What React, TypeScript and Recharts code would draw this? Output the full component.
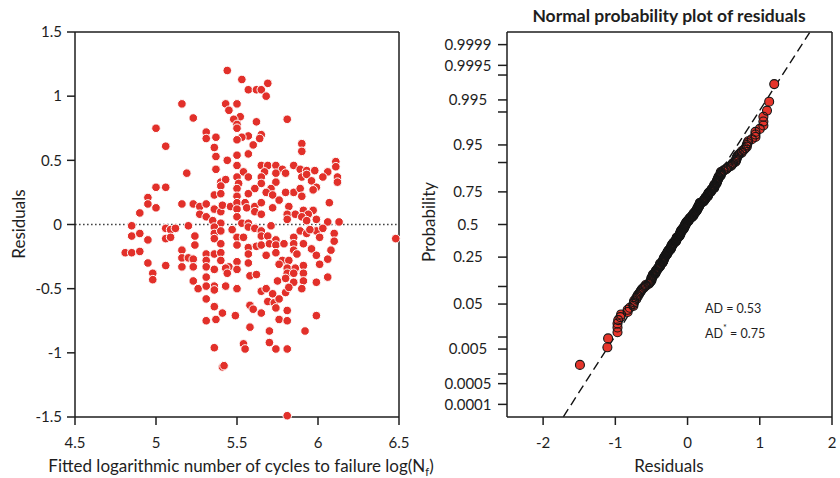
import { ScatterChart, Scatter, XAxis, YAxis, ReferenceLine } from 'recharts';

const FONT = 'Lato, "Open Sans", sans-serif';
const INK = '#1e1e1e';

// left panel: fitted log(Nf) vs residual
const fittedTicks = [4.5, 5, 5.5, 6, 6.5];
const residualTicks = [-1.5, -1, -0.5, 0, 0.5, 1, 1.5];

const fittedVsResidual: [number, number][] = [
  [5.44, 1.2], [5.53, 1.13], [5.69, 1.1], [5.57, 1.05], [5.62, 1.05], [5.65, 1.05], [5.68, 1.0],
  [5.16, 0.94], [5.43, 0.94], [5.45, 0.89], [5.5, 0.94], [5.23, 0.83], [5.52, 0.84], [5.48, 0.82], [5.62, 0.8], [5.81, 0.82],
  [5.5, 0.78], [5.5, 0.75], [5.0, 0.75], [5.31, 0.72], [5.31, 0.67], [5.37, 0.68], [5.57, 0.69], [5.53, 0.68], [5.65, 0.7], [5.64, 0.67],
  [5.5, 0.66], [5.6, 0.62], [5.9, 0.63], [5.06, 0.61], [5.36, 0.6], [5.9, 0.57], [5.37, 0.53], [5.5, 0.54], [5.57, 0.55], [5.44, 0.5],
  [5.5, 0.46], [5.37, 0.43], [5.65, 0.46], [5.69, 0.46], [5.74, 0.46], [5.78, 0.43], [5.85, 0.46], [5.89, 0.43], [5.93, 0.42], [5.98, 0.42],
  [6.11, 0.49], [6.11, 0.45], [6.06, 0.41], [5.54, 0.41], [5.67, 0.41], [5.8, 0.4], [5.19, 0.4], [5.5, 0.37], [5.57, 0.37], [5.65, 0.37],
  [5.74, 0.4], [6.12, 0.37], [6.12, 0.33], [5.9, 0.37], [5.93, 0.39], [5.96, 0.34], [6.03, 0.37], [5.4, 0.33], [5.43, 0.35], [5.51, 0.32],
  [5.65, 0.32], [5.74, 0.33], [5.0, 0.29], [5.06, 0.29], [5.4, 0.3], [5.5, 0.28], [5.61, 0.28], [5.71, 0.28], [5.85, 0.25], [5.8, 0.25],
  [5.89, 0.28], [5.99, 0.29], [5.97, 0.27], [5.36, 0.23], [5.4, 0.24], [5.5, 0.22], [5.57, 0.24], [5.68, 0.25], [5.72, 0.23], [5.9, 0.22],
  [4.95, 0.21], [5.76, 0.19], [4.9, 0.09], [4.95, 0.16], [5.0, 0.13], [5.16, 0.16], [5.23, 0.16], [5.27, 0.14], [5.31, 0.16], [5.27, 0.08],
  [5.31, 0.06], [5.36, 0.12], [5.4, 0.1], [5.41, 0.15], [5.46, 0.14], [5.5, 0.17], [5.5, 0.12], [5.5, 0.06], [5.55, 0.17], [5.56, 0.13],
  [5.61, 0.14], [5.61, 0.1], [5.65, 0.17], [5.65, 0.08], [5.72, 0.13], [5.82, 0.14], [5.81, 0.08], [5.81, 0.04], [5.86, 0.08], [5.91, 0.11],
  [5.97, 0.11], [6.07, 0.17], [5.94, 0.08], [5.99, 0.04], [5.9, 0.06], [5.93, 0.03], [5.35, 0.03], [5.4, 0.01], [5.53, 0.01], [5.57, 0.01],
  [6.13, 0.02], [6.06, 0.02], [4.85, -0.01], [5.2, -0.01],
  [4.85, -0.09], [4.9, -0.07], [4.95, -0.12], [5.06, -0.03], [5.06, -0.11], [5.09, -0.04], [5.09, -0.1], [5.12, -0.03], [5.24, -0.09],
  [5.36, -0.02], [5.36, -0.07], [5.4, -0.05], [5.47, -0.04], [5.5, -0.1], [5.54, -0.1], [5.57, -0.02], [5.61, -0.03], [5.65, -0.05],
  [5.65, -0.09], [5.69, -0.09], [5.71, -0.01], [5.74, -0.12], [5.85, -0.1], [5.89, -0.05], [5.93, -0.07], [5.99, -0.05], [5.95, -0.04],
  [6.03, -0.03], [6.01, -0.1], [6.1, -0.07], [6.48, -0.11],
  [5.24, -0.16], [5.36, -0.11], [5.4, -0.15], [5.5, -0.16], [5.57, -0.18], [5.62, -0.17], [5.65, -0.16], [5.7, -0.15], [5.74, -0.16],
  [5.79, -0.15], [5.85, -0.15], [5.91, -0.15], [5.96, -0.19], [6.1, -0.13],
  [4.81, -0.22], [4.85, -0.22], [4.9, -0.21], [5.16, -0.2], [5.16, -0.26], [5.2, -0.26], [5.23, -0.27], [5.31, -0.23], [5.31, -0.28],
  [5.36, -0.23], [5.4, -0.22], [5.4, -0.28], [5.5, -0.29], [5.57, -0.23], [5.57, -0.3], [5.68, -0.24], [5.74, -0.22], [5.78, -0.28],
  [5.82, -0.28], [5.85, -0.2], [5.87, -0.23], [5.99, -0.24], [6.01, -0.31], [6.06, -0.27], [6.08, -0.2],
  [4.95, -0.3], [5.06, -0.32], [5.16, -0.33], [5.23, -0.33], [5.31, -0.33], [5.36, -0.35], [5.45, -0.33], [5.43, -0.34], [5.5, -0.35],
  [5.76, -0.31], [5.81, -0.34], [5.86, -0.34], [5.91, -0.32],
  [4.98, -0.38], [4.98, -0.43], [5.23, -0.44], [5.31, -0.41], [5.36, -0.48], [5.44, -0.38], [5.58, -0.4], [5.62, -0.39], [5.81, -0.38],
  [5.85, -0.38], [5.8, -0.42], [5.85, -0.45], [5.91, -0.38], [5.91, -0.44], [5.99, -0.45], [6.06, -0.41], [5.75, -0.44],
  [5.26, -0.5], [5.31, -0.48], [5.36, -0.51], [5.43, -0.48], [5.5, -0.5], [5.65, -0.52], [5.68, -0.5], [5.72, -0.54], [5.8, -0.53],
  [5.82, -0.49], [5.9, -0.5],
  [5.31, -0.58], [5.69, -0.6], [5.73, -0.61], [5.76, -0.58], [5.36, -0.64], [5.41, -0.69], [5.58, -0.63], [5.6, -0.66], [5.65, -0.69],
  [5.74, -0.65], [5.81, -0.67], [5.31, -0.75], [5.37, -0.74], [5.49, -0.71], [5.76, -0.74], [5.81, -0.75], [5.99, -0.71],
  [5.58, -0.8], [5.7, -0.83], [5.92, -0.83], [5.54, -0.93], [5.55, -0.97], [5.7, -0.92], [5.74, -0.97], [5.36, -0.96], [5.81, -0.97],
  [5.41, -1.11], [5.42, -1.1], [5.81, -1.49],
];

// right panel: normal probability axis
const qqXTicks = [-2, -1, 0, 1, 2];
const probTicks = [0.0001, 0.0005, 0.001, 0.005, 0.01, 0.05, 0.1, 0.25, 0.5, 0.75, 0.9, 0.95, 0.99, 0.995, 0.999, 0.9995, 0.9999];
const probLabels = ['0.0001', '0.0005', '', '0.005', '', '0.05', '', '0.25', '0.5', '0.75', '', '0.95', '', '0.995', '', '0.9995', '0.9999'];
const fitLineEnds = [{ x: -1.72, p: 0.000035 }, { x: 1.69, p: 0.999964 }];
const adText = 'AD = 0.53';
const adStarValue = ' = 0.75';

// inverse standard normal cdf (Acklam) – used as the probability-paper scale
function invNorm(p: number) {
  const a = [-39.69683028665376, 220.9460984245205, -275.9285104469687, 138.357751867269, -30.66479806614716, 2.506628277459239];
  const b = [-54.47609879822406, 161.5858368580409, -155.6989798598866, 66.80131188771802, -13.28068155288572];
  const c = [-0.007784894002430293, -0.3223964580411365, -2.400758277161838, -2.549671010366383, 4.374664141464968, 2.938163982698783];
  const d = [0.007784695709041462, 0.3224671290700398, 2.445134137142996, 3.754408661907416];
  const tail = (q: number) =>
    (((((c[0] * q + c[1]) * q + c[2]) * q + c[3]) * q + c[4]) * q + c[5]) /
    ((((d[0] * q + d[1]) * q + d[2]) * q + d[3]) * q + 1);
  if (p < 0.02425) return tail(Math.sqrt(-2 * Math.log(p)));
  if (p > 1 - 0.02425) return -tail(Math.sqrt(-2 * Math.log(1 - p)));
  const q = p - 0.5;
  const r = q * q;
  return ((((((a[0] * r + a[1]) * r + a[2]) * r + a[3]) * r + a[4]) * r + a[5]) * q) /
    (((((b[0] * r + b[1]) * r + b[2]) * r + b[3]) * r + b[4]) * r + 1);
}

const leftData = fittedVsResidual.map(([x, y]) => ({ x, y }));

// probability plot built from the same residuals: sorted, Hazen plotting positions
const sortedRes = fittedVsResidual.map((d) => d[1]).sort((a, b) => a - b);
const qqData = sortedRes.map((r, i) => ({ x: r, z: invNorm((i + 0.5) / sortedRes.length) }));
const probTickZ = probTicks.map(invNorm);
const probLabel = (z: number) => {
  let best = 0;
  probTickZ.forEach((t, i) => { if (Math.abs(t - z) < Math.abs(probTickZ[best] - z)) best = i; });
  return probLabels[best];
};
const Z_MAX = 3.98;

const tickStyle = { fontSize: 15, fill: INK, fontFamily: FONT };
const lineStyle = { stroke: INK, strokeWidth: 1.5 };

const RedDot = (props: any) => (
  <circle cx={props.cx} cy={props.cy} r={4.3} fill="#e2302a" stroke="#fff" strokeWidth={1} />
);
// qq markers: fills first, outlines drawn as a second layer on top
const QQFill = (props: any) => <circle cx={props.cx} cy={props.cy} r={4.5} fill="#e5352b" />;
const QQRing = (props: any) => (
  <circle cx={props.cx} cy={props.cy} r={4.5} fill="none" stroke="#161616" strokeWidth={1.1} />
);
const ProbTick = ({ x, y, payload }: any) => (
  <text x={x - 30} y={y} dy="0.355em" textAnchor="middle" fontSize={15} fill={INK} fontFamily={FONT}>
    {probLabel(payload.value)}
  </text>
);

export default function App() {
  return (
    <div style={{ position: 'absolute', left: 0, top: 0, width: 840, height: 478, background: '#fff', fontFamily: FONT }}>
      <div style={{ position: 'absolute', left: 0, top: 0 }}>
        <ScatterChart width={420} height={478} margin={{ top: 22, right: 13, bottom: 0, left: 0 }}>
          <XAxis xAxisId="b" type="number" dataKey="x" domain={[4.5, 6.5]} ticks={fittedTicks} height={61}
            tickSize={8} tickMargin={12} axisLine={lineStyle} tickLine={lineStyle} tick={tickStyle} />
          <XAxis xAxisId="t" orientation="top" type="number" dataKey="x" domain={[4.5, 6.5]} ticks={fittedTicks} height={10}
            tickSize={8} axisLine={lineStyle} tickLine={lineStyle} tickFormatter={() => ''} />
          <YAxis yAxisId="l" type="number" dataKey="y" domain={[-1.5, 1.5]} ticks={residualTicks} width={75}
            tickSize={8} tickMargin={5} axisLine={lineStyle} tickLine={lineStyle} tick={tickStyle} />
          <YAxis yAxisId="r" orientation="right" type="number" dataKey="y" domain={[-1.5, 1.5]} ticks={residualTicks} width={8}
            tickSize={8} axisLine={lineStyle} tickLine={lineStyle} tickFormatter={() => ''} />
          <ReferenceLine xAxisId="b" yAxisId="l" y={0} stroke="#444" strokeWidth={1.6} strokeDasharray="1.6 2.4" />
          <Scatter xAxisId="b" yAxisId="l" data={leftData} shape={RedDot} isAnimationActive={false} />
          <Scatter xAxisId="t" yAxisId="r" data={[]} isAnimationActive={false} />
        </ScatterChart>
      </div>
      <div style={{ position: 'absolute', left: 420, top: 0 }}>
        <ScatterChart width={420} height={478} margin={{ top: 22, right: 0, bottom: 0, left: 0 }}>
          <XAxis xAxisId="b" type="number" dataKey="x" domain={[-2.5, 2]} ticks={qqXTicks} height={61}
            tickSize={8} tickMargin={12} axisLine={lineStyle} tickLine={lineStyle} tick={tickStyle} />
          <XAxis xAxisId="t" orientation="top" type="number" dataKey="x" domain={[-2.5, 2]} ticks={qqXTicks} height={10}
            tickSize={8} axisLine={lineStyle} tickLine={lineStyle} tickFormatter={() => ''} />
          <YAxis yAxisId="l" type="number" dataKey="z" domain={[-Z_MAX, Z_MAX]} ticks={probTickZ} interval={0} width={87}
            tickSize={9} tickMargin={0} axisLine={lineStyle} tickLine={lineStyle} tick={<ProbTick />} />
          <YAxis yAxisId="r" orientation="right" type="number" dataKey="z" domain={[-Z_MAX, Z_MAX]} ticks={probTickZ} interval={0} width={8}
            tickSize={8} axisLine={lineStyle} tickLine={lineStyle} tickFormatter={() => ''} />
          <ReferenceLine xAxisId="b" yAxisId="l" ifOverflow="extendDomain"
            segment={fitLineEnds.map((e) => ({ x: e.x, y: invNorm(e.p) }))}
            stroke="#111" strokeWidth={1.4} strokeDasharray="9 5" />
          <Scatter xAxisId="b" yAxisId="l" data={qqData} dataKey="z" shape={QQFill} isAnimationActive={false} />
          <Scatter xAxisId="b" yAxisId="l" data={qqData} dataKey="z" shape={QQRing} isAnimationActive={false} />
          <Scatter xAxisId="t" yAxisId="r" data={[]} isAnimationActive={false} />
        </ScatterChart>
      </div>
      <svg width={840} height={478} style={{ position: 'absolute', left: 0, top: 0, pointerEvents: 'none' }}
        fontFamily={FONT} fill={INK}>
        <text transform="translate(25,224) rotate(-90)" textAnchor="middle" fontSize={17}>Residuals</text>
        <text x={241} y={472} textAnchor="middle" fontSize={17}>
          Fitted logarithmic number of cycles to failure log(N<tspan fontSize={11} dy={4}>f</tspan><tspan dy={-4}>)</tspan>
        </text>
        <text x={669} y={22} textAnchor="middle" fontSize={17.5} fontWeight="bold">Normal probability plot of residuals</text>
        <text transform="translate(435,222) rotate(-90)" textAnchor="middle" fontSize={17}>Probability</text>
        <text x={669} y={472} textAnchor="middle" fontSize={17}>Residuals</text>
        <text x={705} y={313} fontSize={12.5}>{adText}</text>
        <text x={705} y={338} fontSize={12.5}>
          AD<tspan fontSize={9} dy={-7}>*</tspan><tspan dy={7}>{adStarValue}</tspan>
        </text>
      </svg>
    </div>
  );
}
